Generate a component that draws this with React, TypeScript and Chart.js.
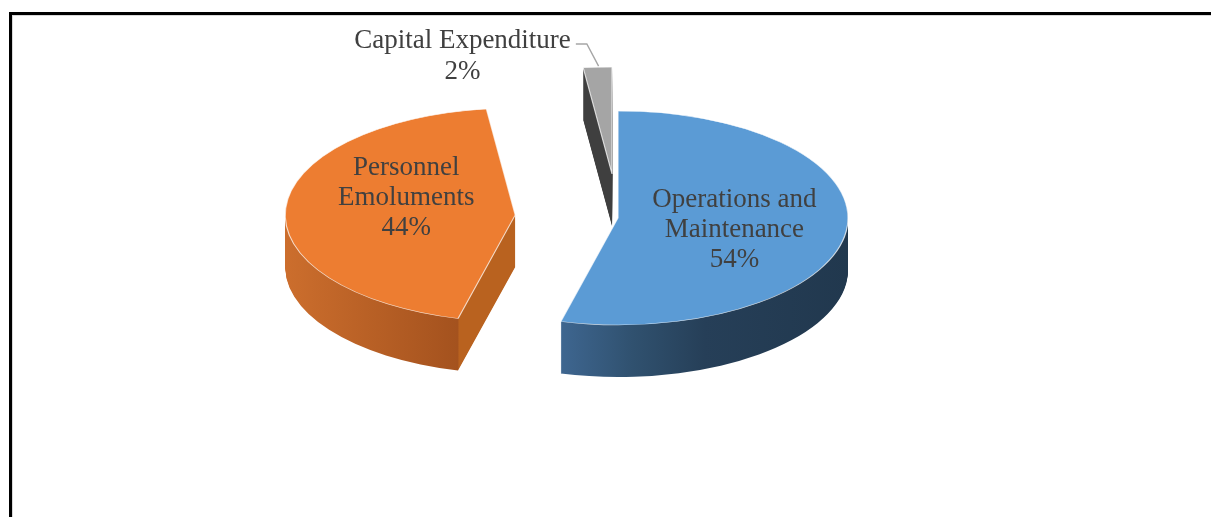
import React, { useEffect, useRef } from "react";
import { Chart, registerables } from "chart.js";

Chart.register(...registerables);

// ---- data ----
const categories = ["Operations and Maintenance", "Personnel Emoluments", "Capital Expenditure"];
const shares = [54, 44, 2];
const labelLines = [["Operations and", "Maintenance"], ["Personnel", "Emoluments"], ["Capital Expenditure"]];

// ---- style / layout ----
const topColors = ["#5B9BD5", "#ED7D31", "#A5A5A5"];
const EXPLODE = [0, 103, 95];
const K = 0.465; // vertical squash of the pie (tilt)
const DEPTH = 52;
const RADIUS = 230;
const LABEL_R = [0.51, 0.475];
const LABEL_DY = [12, -7];
const FONT = '27px "Liberation Serif", "Times New Roman", serif';
const TEXT_COLOR = "#404040";

function sideFill(ctx: CanvasRenderingContext2D, a: any, i: number, R: number) {
  const mid = (a.startAngle + a.endAngle) / 2;
  const ex = Math.cos(mid) * EXPLODE[i];
  const ax = a.x + ex;
  const x0 = ax - R;
  const x1 = ax + R;
  const g = ctx.createLinearGradient(x0 - ex, 0, x1 - ex, 0);
  const t = (sx: number) => Math.min(1, Math.max(0, (sx - x0) / (x1 - x0)));
  if (i === 0) {
    const l = ax + Math.cos(a.endAngle) * R;
    g.addColorStop(0, "#3E6690");
    g.addColorStop(t(l), "#3E6690");
    g.addColorStop(t(l + (x1 - l) * 0.25), "#30516F");
    g.addColorStop(t(l + (x1 - l) * 0.5), "#263F58");
    g.addColorStop(1, "#21384E");
  } else if (i === 1) {
    const fb = ax + Math.cos(a.startAngle) * R;
    g.addColorStop(0, "#CC6E2D");
    g.addColorStop(t(fb), "#A4521E");
    g.addColorStop(Math.min(1, t(fb) + 0.002), "#B9621F");
    g.addColorStop(1, "#B9621F");
  } else {
    g.addColorStop(0, "#3F3F3F");
    g.addColorStop(1, "#3F3F3F");
  }
  return g;
}

function drawWith(a: any, ctx: CanvasRenderingContext2D, fill: any) {
  const o = a.options;
  a.options = Object.assign({}, o, { backgroundColor: fill, borderColor: fill, borderWidth: 0 });
  a.draw(ctx);
  a.options = o;
}

const pie3d = {
  id: "pie3d",
  beforeDatasetsDraw(chart: any) {
    const ctx: CanvasRenderingContext2D = chart.ctx;
    const arcs = chart.getDatasetMeta(0).data as any[];
    if (!arcs.length) return false;
    const cx = arcs[0].x;
    const cy = arcs[0].y;
    const R = arcs[0].outerRadius;
    const project = (i: number, d: number) => {
      const a = arcs[i];
      const mid = (a.startAngle + a.endAngle) / 2;
      ctx.translate(0, d);
      ctx.translate(cx, cy);
      ctx.scale(1, K);
      ctx.translate(-cx, -cy);
      ctx.translate(Math.cos(mid) * EXPLODE[i], Math.sin(mid) * EXPLODE[i]);
    };
    const fills = arcs.map((a, i) => sideFill(ctx, a, i, R));
    for (let d = DEPTH; d >= 1; d--) {
      arcs.forEach((a, i) => {
        ctx.save();
        project(i, d);
        drawWith(a, ctx, fills[i]);
        ctx.restore();
      });
    }
    arcs.forEach((a, i) => {
      ctx.save();
      project(i, 0);
      a.draw(ctx);
      ctx.restore();
    });
    return false;
  },
  afterDraw(chart: any) {
    const ctx: CanvasRenderingContext2D = chart.ctx;
    const arcs = chart.getDatasetMeta(0).data as any[];
    if (!arcs.length) return;
    const cx = arcs[0].x;
    const cy = arcs[0].y;
    const R = arcs[0].outerRadius;
    const total = shares.reduce((s, v) => s + v, 0);
    const pct = shares.map((v) => Math.round((v / total) * 100) + "%");
    ctx.save();
    ctx.font = FONT;
    ctx.fillStyle = TEXT_COLOR;
    ctx.textAlign = "center";
    ctx.textBaseline = "alphabetic";
    const lh = 30;
    for (let i = 0; i < 2; i++) {
      const a = arcs[i];
      const mid = (a.startAngle + a.endAngle) / 2;
      const ax = cx + Math.cos(mid) * EXPLODE[i];
      const ay = cy + Math.sin(mid) * EXPLODE[i] * K;
      const lx = ax + Math.cos(mid) * R * LABEL_R[i];
      const ly = ay + Math.sin(mid) * R * LABEL_R[i] * K + LABEL_DY[i];
      const lines = [...labelLines[i], pct[i]];
      lines.forEach((s, j) => ctx.fillText(s, lx, ly + (j - 1) * lh));
    }
    // outside label for the small slice
    const g = arcs[2];
    const gm = (g.startAngle + g.endAngle) / 2;
    const gax = cx + Math.cos(gm) * EXPLODE[2];
    const gay = cy + Math.sin(gm) * EXPLODE[2] * K;
    const tx = gax + Math.cos(gm) * R;
    const ty = gay + Math.sin(gm) * R * K;
    const lx = cx - 155.5;
    const b1 = cy - 170;
    ctx.fillText(labelLines[2][0], lx, b1);
    ctx.fillText(pct[2], lx, b1 + 31);
    const w = ctx.measureText(labelLines[2][0]).width;
    const sx = lx + w / 2 + 5;
    ctx.strokeStyle = "#A6A6A6";
    ctx.lineWidth = 1.4;
    ctx.beginPath();
    ctx.moveTo(sx, b1 - 4);
    ctx.lineTo(sx + 11, b1 - 4);
    ctx.lineTo(tx + 1, ty - 1);
    ctx.stroke();
    ctx.restore();
  },
};

export default function App() {
  const ref = useRef<HTMLCanvasElement | null>(null);
  useEffect(() => {
    if (!ref.current) return;
    const chart = new Chart(ref.current, {
      type: "pie",
      data: {
        labels: categories,
        datasets: [
          {
            data: shares,
            backgroundColor: topColors,
            borderColor: "rgba(255,255,255,0.75)",
            borderWidth: 1.2,
            radius: RADIUS,
          } as any,
        ],
      },
      options: {
        animation: false,
        responsive: true,
        maintainAspectRatio: false,
        events: [],
        layout: { padding: { left: 25, right: 0, top: 0, bottom: 81 } },
        plugins: {
          legend: { display: false },
          tooltip: { enabled: false },
          title: { display: false },
        },
      } as any,
      plugins: [pie3d as any],
    });
    return () => chart.destroy();
  }, []);
  return (
    <div
      style={{
        position: "fixed",
        left: 0,
        top: 0,
        width: 1211,
        height: 517,
        overflow: "hidden",
        background: "#fff",
      }}
    >
      <div
        style={{
          position: "absolute",
          left: 9,
          top: 12,
          width: 1400,
          height: 800,
          borderLeft: "3px solid #000",
          borderTop: "3px solid #000",
          boxShadow: "inset 1px 1px 0 #d9d9d9",
        }}
      />
      <div style={{ position: "absolute", left: 0, top: 0, width: 1211, height: 517 }}>
        <canvas ref={ref} />
      </div>
    </div>
  );
}
